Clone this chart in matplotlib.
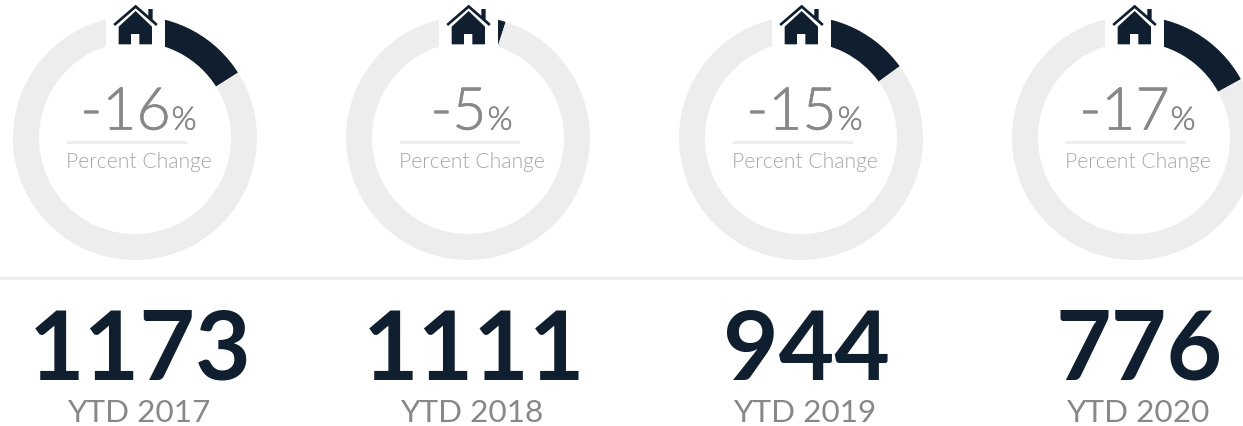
import matplotlib
matplotlib.use("Agg")
import matplotlib.pyplot as plt
import matplotlib.patheffects as pe
from matplotlib import font_manager as fm
from matplotlib.patches import Polygon, Rectangle

# Data
percent_changes = [-16, -5, -15, -17]
ytd_values = [1173, 1111, 944, 776]
ytd_labels = ["YTD 2017", "YTD 2018", "YTD 2019", "YTD 2020"]
subtitle = "Percent Change"

NAVY = "#101F2F"
RING = "#EDEDED"
W, H = 1243, 427
PX = 72 / 100  # px to pt at dpi 100
plt.rcParams["font.family"] = ["Lato", "DejaVu Sans"]

light_path = [f for f in fm.findSystemFonts() if f.endswith("Lato-Light.ttf")]


def light(size):
    if light_path:
        return dict(fontproperties=fm.FontProperties(fname=light_path[0], size=size))
    return dict(weight="light", fontsize=size)


fig = plt.figure(figsize=(W / 100, H / 100), dpi=100, facecolor="white")

# House icon, in 1/3 px relative to the crop of the first column
ROOF = [(340, 75), (407, 17), (445, 50), (445, 30), (458, 30), (458, 61), (473, 75),
        (468, 81), (407, 28), (345, 81)]
BODY = [(407, 36), (356, 83), (356, 136), (393, 136), (393, 105), (418, 105),
        (418, 136), (456, 136), (456, 83)]

CX0, STEP, CY, R_OUT, R_IN = 135, 333, 139, 122, 96

for i, pct in enumerate(percent_changes):
    cx = CX0 + STEP * i
    ax = fig.add_axes([(cx - R_OUT) / W, 1 - (CY + R_OUT) / H, 2 * R_OUT / W, 2 * R_OUT / H])
    ax.pie([abs(pct), 100 - abs(pct)], colors=[NAVY, RING], startangle=90, counterclock=False,
           radius=1, wedgeprops=dict(width=1 - R_IN / R_OUT, linewidth=0))
    ax.set_xlim(-1, 1)
    ax.set_ylim(-1, 1)
    ax.set_aspect("equal")
    ax.axis("off")

ov = fig.add_axes([0, 0, 1, 1], facecolor="none")
ov.set_xlim(0, W)
ov.set_ylim(H, 0)
ov.axis("off")

ov.add_patch(Rectangle((0, 278), W, 3, fc="#EEEEEE", ec="none"))

fig.canvas.draw()
rend = fig.canvas.get_renderer()
heavier = [pe.withStroke(linewidth=0.5, foreground="#888888")]

for i, pct in enumerate(percent_changes):
    dx = STEP * i
    cx = CX0 + dx
    # gap around the house
    ov.add_patch(Rectangle((cx - 29, 0), 59, 52, fc="white", ec="none"))
    ov.add_patch(Polygon([(x / 3 + dx, y / 3) for x, y in ROOF], fc=NAVY, ec="none"))
    ov.add_patch(Polygon([(x / 3 + dx, y / 3) for x, y in BODY], fc=NAVY, ec="none"))

    # centred "-16" + "%"
    base = 130.5
    n = ov.text(0, base, f"{pct}", color="#888888", ha="left", va="baseline",
                path_effects=heavier, **light(59 * PX))
    p = ov.text(0, base, "%", color="#888888", ha="left", va="baseline",
                path_effects=heavier, **light(32 * PX))
    wn = n.get_window_extent(rend).width
    wp = p.get_window_extent(rend).width
    left = cx + 3.5 - (wn + 1 + wp) / 2
    n.set_x(left)
    p.set_x(left + wn + 1)

    ov.add_patch(Rectangle((cx - 68, 142), 120, 3, fc="#EEEEEE", ec="none"))
    ov.text(cx + 3.5, 168, subtitle, color="#A6A6A6", ha="center", va="baseline", **light(21.2 * PX))
    ov.text(cx + 5.5, 380, f"{ytd_values[i]}", fontsize=96 * PX, color=NAVY, weight="bold",
            ha="center", va="baseline")
    ov.text(cx + 3.5, 422, ytd_labels[i], fontsize=31.5 * PX, color="#888888",
            ha="center", va="baseline")

fig.savefig("out.png", dpi=100)
